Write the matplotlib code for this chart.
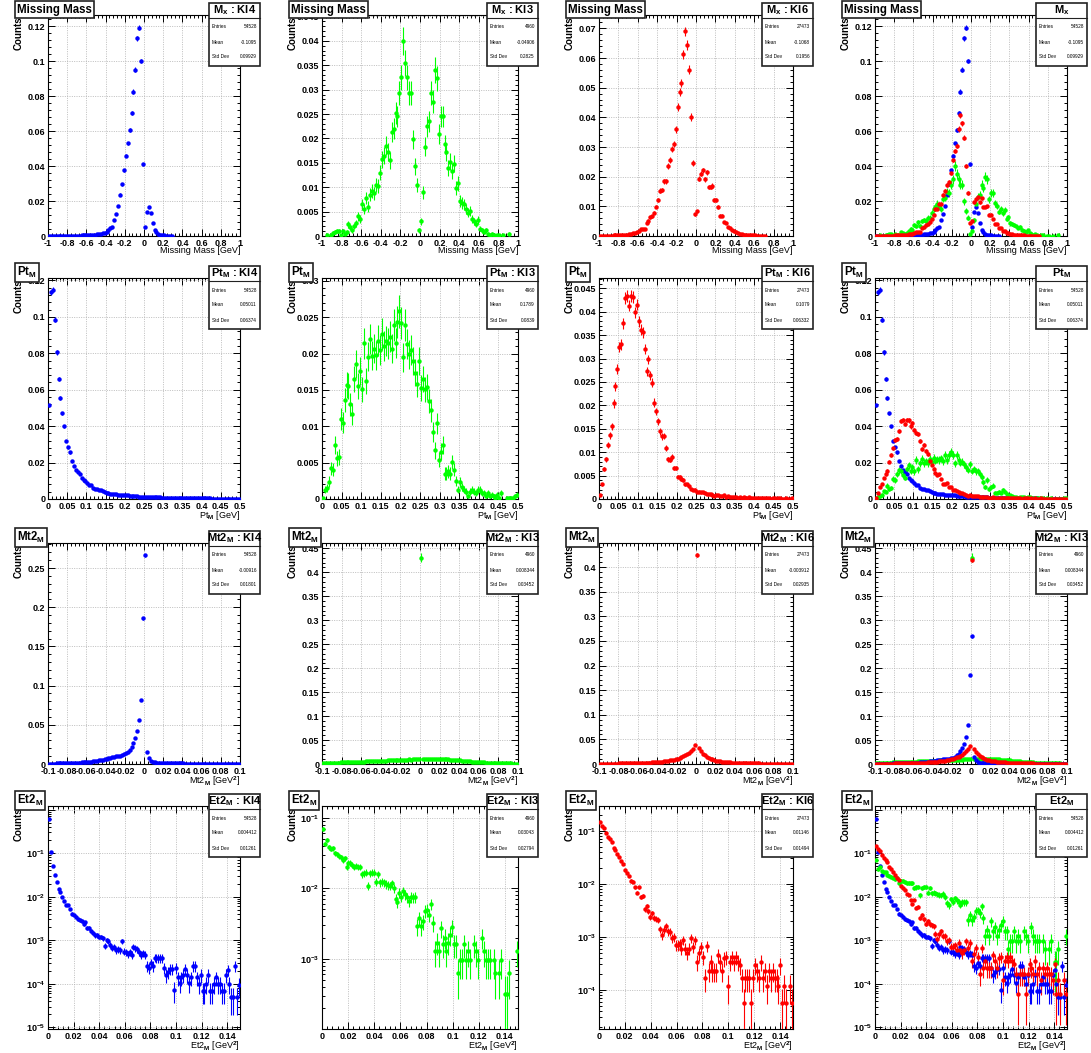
import numpy as np
import matplotlib
matplotlib.use("Agg")
import matplotlib.pyplot as plt
from matplotlib.patches import Rectangle
from matplotlib.ticker import (MultipleLocator, AutoMinorLocator, FuncFormatter,
                               LogLocator, NullFormatter)

plt.rcParams["font.family"] = ["Liberation Sans", "DejaVu Sans"]
plt.rcParams["font.weight"] = "bold"
plt.rcParams["mathtext.fontset"] = "custom"
plt.rcParams["mathtext.rm"] = "Liberation Sans:bold"
plt.rcParams["mathtext.bf"] = "Liberation Sans:bold"
plt.rcParams["mathtext.it"] = "Liberation Sans:bold"
plt.rcParams["mathtext.default"] = "bf"

W, H, DPI = 1091, 1053, 100

samples = ["Kl4", "Kl3", "Kl6"]
colors = {"Kl4": "#0000ff", "Kl3": "#00ff00", "Kl6": "#ff0000"}

# ---- Missing mass, 100 bins on [-1, 1] ----
mx_kl4 = [0.0001] * 12 + [0.0002] * 3 + [
    0.0002, 0.0002, 0.0003, 0.0003, 0.0004, 0.0004, 0.0005, 0.0006, 0.0007, 0.0008,
    0.0009, 0.0011, 0.0012, 0.0015, 0.0018,
    0.0024, 0.0032, 0.0045, 0.0052, 0.009, 0.0125, 0.017, 0.0237, 0.0295, 0.0375,
    0.046, 0.053, 0.0605, 0.0705, 0.0825, 0.095, 0.113, 0.119, 0.100, 0.041,
    0.0053, 0.0137, 0.0163, 0.0133, 0.0075, 0.0035, 0.0022, 0.0012, 0.0008, 0.0005,
    0.0003, 0.0002, 0.0002, 0.0001, 0.0001] + [0] * 35
mx_kl3 = [
    0, 0, 0.0003, 0, 0.0002, 0.0006, 0.0008, 0.001, 0.001, 0.0002,
    0.001, 0.0004, 0.0008, 0.0024, 0.0018, 0.0012, 0.002, 0.0026, 0.004, 0.0035,
    0.0065, 0.0055, 0.0078, 0.006, 0.0085, 0.0092, 0.0088, 0.0105, 0.0103, 0.013,
    0.0157, 0.0165, 0.0185, 0.0172, 0.0155, 0.0213, 0.022, 0.0253, 0.0245, 0.0293,
    0.0325, 0.0400, 0.0355, 0.0325, 0.0293, 0.0293, 0.0198, 0.0143, 0.0105, 0.0012,
    0.003, 0.009, 0.0183, 0.0225, 0.0235, 0.0293, 0.0275, 0.034, 0.0323, 0.021,
    0.0245, 0.0245, 0.0188, 0.0172, 0.014, 0.0152, 0.0133, 0.0148, 0.0098, 0.0108,
    0.0072, 0.0068, 0.0065, 0.0055, 0.0048, 0.0052, 0.0035, 0.003, 0.0025, 0.0032,
    0.0015, 0.0012, 0.0008, 0.0012, 0.0005, 0.0002, 0.0005, 0.0003, 0, 0.0002,
    0.0002, 0, 0.0002, 0, 0, 0.0005, 0, 0, 0, 0]
mx_kl6 = [
    0.0001, 0.0001, 0.0001, 0.0001, 0.0001, 0.0001, 0.0001, 0.0002, 0.0002, 0.0002,
    0.0003, 0.0003, 0.0004, 0.0004, 0.0005, 0.0006, 0.0007, 0.0009, 0.0011, 0.0014,
    0.0018, 0.0022, 0.0022, 0.0022, 0.0043, 0.0052, 0.0063, 0.0066, 0.0078, 0.0099,
    0.0122, 0.0153, 0.0155, 0.0184, 0.0184, 0.0236, 0.0257, 0.0292, 0.031, 0.036,
    0.0435, 0.0486, 0.0516, 0.0612, 0.069, 0.0644, 0.0561, 0.0401, 0.0246, 0.0074,
    0.0083, 0.0193, 0.021, 0.0221, 0.0192, 0.0215, 0.0165, 0.0165, 0.017, 0.0122,
    0.0122, 0.0097, 0.0069, 0.0069, 0.0048, 0.0043, 0.0029, 0.0026, 0.002, 0.0016,
    0.0013, 0.001, 0.0007, 0.0007, 0.0005, 0.0004, 0.0003, 0.0003, 0.0002, 0.0002,
    0.0002, 0.0001, 0.0001, 0.0001, 0.0001, 0.0001, 0, 0, 0, 0] + [0] * 10

# ---- Pt_M, 100 bins on [0, 0.5] ----
pt_kl4 = [
    0.0514, 0.1135, 0.1148, 0.0984, 0.0805, 0.066, 0.0554, 0.047, 0.040, 0.0318,
    0.0284, 0.0256, 0.0209, 0.0181, 0.0161, 0.0146, 0.0137, 0.0115, 0.0102, 0.0097,
    0.0088, 0.0079, 0.0077, 0.0059, 0.0057, 0.0055, 0.0051, 0.0051, 0.0044, 0.0037,
    0.0033, 0.0031, 0.0029, 0.0027, 0.0027, 0.0026, 0.0024, 0.0024, 0.0022, 0.0022,
    0.002, 0.002, 0.0018, 0.0016, 0.0016, 0.0015, 0.0015, 0.0013, 0.0013, 0.0013,
    0.0013, 0.0012, 0.0011, 0.0011, 0.001, 0.001, 0.0009, 0.0009, 0.0009, 0.0008,
    0.0008, 0.0008, 0.0007, 0.0007, 0.0007, 0.0006, 0.0006, 0.0006, 0.0006, 0.0005,
    0.0005, 0.0005, 0.0005, 0.0004, 0.0004, 0.0004, 0.0004, 0.0004, 0.0003, 0.0003,
    0.0003, 0.0003, 0.0003, 0.0003, 0.0003, 0.0002, 0.0002, 0.0002, 0.0002, 0.0002,
    0.0002, 0.0002, 0.0002, 0.0002, 0.0002, 0.0001, 0.0002, 0.0001, 0.0001, 0.0001]
pt_kl3 = [
    0.00014, 0.0013, 0.0015, 0.0024, 0.0042, 0.004, 0.0074, 0.0056, 0.0058, 0.011,
    0.0105, 0.0136, 0.0157, 0.0155, 0.013, 0.0117, 0.0165, 0.0186, 0.0155, 0.0176,
    0.0151, 0.0214, 0.0162, 0.0196, 0.022, 0.0197, 0.0207, 0.0198, 0.0218, 0.0205,
    0.0227, 0.021, 0.0217, 0.0214, 0.0223, 0.0207, 0.024, 0.0215, 0.0243, 0.0258,
    0.0242, 0.0195, 0.024, 0.0213, 0.0199, 0.0205, 0.019, 0.0174, 0.0158, 0.019,
    0.0153, 0.0165, 0.0151, 0.0154, 0.0135, 0.0122, 0.0092, 0.0067, 0.0104, 0.0054,
    0.0065, 0.0074, 0.0035, 0.0035, 0.0038, 0.0035, 0.0051, 0.004, 0.0025, 0.0013,
    0.0023, 0.0016, 0.0013, 0.001, 0.0004, 0.001, 0.0013, 0.001, 0.0008, 0.0013,
    0.0013, 0.0008, 0.0008, 0.0004, 0.0008, 0.0004, 0.0006, 0.0004, 0.0002, 0.0006,
    0.0002, 0.0008, 0, 0, 0.0002, 0.0002, 0.0002, 0.0002, 0.0004, 0.0006]
pt_kl6 = [
    0.0008, 0.0031, 0.0064, 0.0085, 0.0116, 0.0136, 0.0155, 0.0204, 0.0241, 0.0278,
    0.0325, 0.033, 0.0375, 0.0429, 0.0434, 0.0413, 0.0433, 0.0431, 0.0399, 0.0415,
    0.038, 0.0362, 0.0356, 0.032, 0.0273, 0.0298, 0.0264, 0.0248, 0.0206, 0.0187,
    0.0166, 0.0145, 0.0134, 0.0135, 0.0109, 0.0085, 0.0084, 0.009, 0.0066, 0.0066,
    0.0048, 0.0047, 0.0043, 0.0041, 0.0031, 0.0031, 0.0027, 0.0021, 0.0019, 0.002,
    0.0016, 0.0016, 0.0014, 0.0014, 0.0013, 0.0011, 0.001, 0.001, 0.0009, 0.0006,
    0.0008, 0.0009, 0.0007, 0.0006, 0.0008, 0.0005, 0.0006, 0.0005, 0.0004, 0.0005,
    0.0004, 0.0003, 0.0005, 0.0003, 0.0004, 0.0003, 0.0002, 0.0004, 0.0003, 0.0003,
    0.0002, 0.0003, 0.0002, 0.0003, 0.0002, 0.0002, 0.0003, 0.0002, 0.0001, 0.0002,
    0.0002, 0.0001, 0.0002, 0.0002, 0.0001, 0.0001, 0.0002, 0.0001, 0.0001, 0.0002]

# ---- Mt2_M, 100 bins on [-0.1, 0.1] ----
mt2_kl4 = [
    0.0004, 0.0005, 0.0005, 0.0006, 0.0007, 0.0007, 0.0008, 0.0009, 0.001, 0.0011,
    0.0012, 0.0013, 0.0014, 0.0015, 0.0016, 0.0017, 0.0018, 0.002, 0.0022, 0.0024,
    0.0026, 0.0028, 0.003, 0.0033, 0.0037, 0.0041, 0.0046, 0.005, 0.0055, 0.006,
    0.0066, 0.0072, 0.0078, 0.0085, 0.009, 0.0096, 0.0101, 0.0108, 0.0114, 0.0125,
    0.0135, 0.0152, 0.0178, 0.0214, 0.0268, 0.0332, 0.0418, 0.0558, 0.082, 0.186,
    0.266, 0.0148, 0.0077, 0.0042, 0.0028, 0.0021, 0.0017, 0.0015, 0.0013, 0.0012,
    0.0011, 0.001, 0.001, 0.0009, 0.0009, 0.0008, 0.0008, 0.0008, 0.0007, 0.0007,
    0.0007, 0.0006, 0.0006, 0.0006, 0.0006, 0.0005, 0.0005, 0.0005, 0.0005, 0.0005,
    0.0004, 0.0004, 0.0004, 0.0004, 0.0004, 0.0004, 0.0003, 0.0003, 0.0003, 0.0003,
    0.0003, 0.0003, 0.0003, 0.0003, 0.0003, 0.0003, 0.0003, 0.0002, 0.0002, 0.0002]
mt2_kl3 = [
    0.0015, 0.002, 0.0018, 0.0022, 0.0025, 0.0022, 0.0028, 0.003, 0.0026, 0.0032,
    0.0035, 0.0033, 0.0038, 0.004, 0.0036, 0.0042, 0.0045, 0.0043, 0.0048, 0.005,
    0.0052, 0.0049, 0.0055, 0.0058, 0.0056, 0.006, 0.0062, 0.0065, 0.0063, 0.0068,
    0.007, 0.0072, 0.0069, 0.0075, 0.0078, 0.0076, 0.008, 0.0083, 0.0081, 0.0085,
    0.0088, 0.009, 0.0087, 0.0092, 0.0095, 0.0093, 0.0098, 0.01, 0.0097, 0.0102,
    0.43, 0.0105, 0.0108, 0.011, 0.0106, 0.0112, 0.0109, 0.0113, 0.011, 0.0108,
    0.0106, 0.0104, 0.0101, 0.0098, 0.0095, 0.0092, 0.0088, 0.0085, 0.0081, 0.0078,
    0.0074, 0.007, 0.0066, 0.0063, 0.0059, 0.0055, 0.0052, 0.0049, 0.0045, 0.0042,
    0.0039, 0.0036, 0.0034, 0.0031, 0.0029, 0.0027, 0.0025, 0.0023, 0.0021, 0.002,
    0.0018, 0.0017, 0.0016, 0.0014, 0.0013, 0.0012, 0.0011, 0.001, 0.0009, 0.0008]
mt2_kl6 = [
    0.0006, 0.0006, 0.0007, 0.0007, 0.0008, 0.0008, 0.0009, 0.0009, 0.001, 0.001,
    0.0011, 0.0011, 0.0012, 0.0013, 0.0013, 0.0014, 0.0015, 0.0016, 0.0017, 0.0018,
    0.002, 0.0021, 0.0022, 0.0024, 0.0026, 0.0028, 0.003, 0.0032, 0.0035, 0.0038,
    0.0041, 0.0045, 0.0049, 0.0054, 0.0059, 0.0065, 0.0072, 0.008, 0.0089, 0.0099,
    0.011, 0.0123, 0.0138, 0.0155, 0.0175, 0.0198, 0.0225, 0.0262, 0.0305, 0.038,
    0.425, 0.032, 0.026, 0.021, 0.0175, 0.0148, 0.0125, 0.0107, 0.0092, 0.008,
    0.007, 0.0062, 0.0055, 0.0049, 0.0044, 0.004, 0.0036, 0.0033, 0.003, 0.0027,
    0.0025, 0.0023, 0.0021, 0.0019, 0.0018, 0.0017, 0.0016, 0.0015, 0.0014, 0.0013,
    0.0012, 0.0012, 0.0011, 0.001, 0.001, 0.0009, 0.0009, 0.0008, 0.0008, 0.0008,
    0.0007, 0.0007, 0.0007, 0.0006, 0.0006, 0.0006, 0.0005, 0.0005, 0.0005, 0.0005]

# ---- Et2_M, 100 bins on [0, 0.15] ----
et2_kl4 = [
    0.6, 0.104, 0.0505, 0.031, 0.0217, 0.0154, 0.0126, 0.01, 0.0078, 0.0065,
    0.0063, 0.0052, 0.0041, 0.0038, 0.0035, 0.003, 0.0029, 0.0027, 0.0023, 0.0026,
    0.0019, 0.0019, 0.0016, 0.0015, 0.0013, 0.0013, 0.0012, 0.0012, 0.0011, 0.00073,
    0.001, 0.00094, 0.00077, 0.00067, 0.0007, 0.00059, 0.00063, 0.0006, 0.00095, 0.00055,
    0.00054, 0.00048, 0.00053, 0.00046, 0.0007, 0.00066, 0.00063, 0.00053, 0.00046, 0.0005,
    0.00046, 0.00026, 0.00023, 0.0003, 0.00026, 0.0004, 0.00039, 0.00039, 0.00039, 0.00039,
    0.00023, 0.00016, 0.00019, 0.00022, 0.00022, 0.000072, 0.00023, 0.00014, 0.000105, 0.00014,
    0.00016, 0.00022, 0.00016, 0.000105, 0.00014, 0.00026, 0.00026, 0.00014, 0.0001, 0.00016,
    0.00007, 0.00007, 0.0001, 0.00016, 0.00007, 0.00007, 0.0001, 0.00014, 0.0001, 0.0001,
    0.00007, 0.00007, 0.00016, 0.00021, 0.0001, 0.00005, 0.00005, 0.00026, 0.00005, 0.000095]
et2_kl3 = [
    0.0697, 0.0425, 0.0485, 0.038, 0.036, 0.037, 0.0313, 0.0306, 0.0287, 0.0274,
    0.0251, 0.0268, 0.0202, 0.023, 0.0227, 0.0213, 0.0202, 0.0208, 0.0202, 0.0202,
    0.0159, 0.0164, 0.0167, 0.0108, 0.0162, 0.0167, 0.0167, 0.0123, 0.0159, 0.0121,
    0.0124, 0.0121, 0.0114, 0.011, 0.0108, 0.0117, 0.01, 0.0071, 0.0064, 0.0087,
    0.0076, 0.0092, 0.0082, 0.0074, 0.0066, 0.0075, 0.0074, 0.0075, 0.0029, 0.0038,
    0.0029, 0.0034, 0.0048, 0.0049, 0.0042, 0.006, 0.0032, 0.00127, 0.0017, 0.00127,
    0.0027, 0.0016, 0.002, 0.00127, 0.0017, 0.0022, 0.0028, 0.0016, 0.0016, 0.00062,
    0.00095, 0.00095, 0.0016, 0.00095, 0.00127, 0.00095, 0, 0.0016, 0.00127, 0.00095,
    0, 0.002, 0.00127, 0.00095, 0.00095, 0.00095, 0, 0.00095, 0.00062, 0,
    0.00062, 0.00095, 0, 0.00032, 0.00032, 0.00062, 0, 0, 0, 0.00127]
et2_kl6 = [
    0.144, 0.125, 0.111, 0.0916, 0.0768, 0.0683, 0.0616, 0.048, 0.044, 0.037,
    0.0319, 0.0267, 0.0238, 0.0178, 0.0158, 0.0142, 0.0114, 0.011, 0.0085, 0.0068,
    0.0085, 0.0056, 0.0059, 0.0033, 0.0038, 0.003, 0.0024, 0.0028, 0.0023, 0.0022,
    0.0021, 0.0014, 0.00106, 0.00136, 0.0016, 0.00127, 0.00123, 0.00095, 0.001, 0.0007,
    0.0007, 0.00076, 0.0006, 0.00087, 0.0006, 0.0005, 0.0006, 0.00095, 0.00065, 0.00087,
    0.00034, 0.00049, 0.00065, 0.00042, 0.00017, 0.00068, 0.00023, 0.00034, 0.00023, 0.00023,
    0.00023, 0.00045, 0.00034, 0.00023, 0.00039, 0.00042, 0.00012, 0.00034, 0.00042, 0.00034,
    0.00042, 0.00034, 0.00029, 0.00017, 0.000057, 0.00017, 0.00017, 0.00017, 0.000057, 0.00017,
    0.00029, 0.00023, 0.00017, 0.00034, 0.00017, 0.00023, 0.00012, 0.00023, 0.00017, 0.00023,
    0.00017, 0.00017, 0.00012, 0.00029, 0.000057, 0.00012, 0.000057, 0, 0.00012, 0.000057]

# stats box contents: entries, mean, std dev
mx_stats = {"Kl4": ("54528", "-0.1095", "0.09929"),
            "Kl3": ("4960", "-0.04906", "0.2825"),
            "Kl6": ("27473", "-0.1068", "0.1956")}
pt_stats = {"Kl4": ("54528", "0.05011", "0.06374"),
            "Kl3": ("4960", "0.1789", "0.0839"),
            "Kl6": ("27473", "0.1079", "0.06332")}
mt2_stats = {"Kl4": ("54528", "-0.00916", "0.01801"),
             "Kl3": ("4960", "0.008344", "0.03452"),
             "Kl6": ("27473", "-0.003912", "0.02935")}
et2_stats = {"Kl4": ("54528", "0.004412", "0.01261"),
             "Kl3": ("4960", "0.03043", "0.02794"),
             "Kl6": ("27473", "0.01146", "0.01494")}

rows = [
    dict(title="Missing Mass", name="$M_{x}$", xlabel="Missing Mass [GeV]",
         xrange=(-1, 1), xstep=0.2, ysteps=[0.02, 0.005, 0.01, 0.02], log=False,
         ytops=[0.1263, 0.0453, 0.0745, 0.1263],
         hists={"Kl4": mx_kl4, "Kl3": mx_kl3, "Kl6": mx_kl6}, stats=mx_stats,
         order=["Kl4", "Kl3", "Kl6"], tag_all=False),
    dict(title="Pt$_{M}$", name="Pt$_{M}$", xlabel="Pt$_{M}$ [GeV]",
         xrange=(0, 0.5), xstep=0.05, ysteps=[0.02, 0.005, 0.005, 0.02], log=False,
         ytops=[0.1213, 0.0304, 0.0472, 0.1213],
         hists={"Kl4": pt_kl4, "Kl3": pt_kl3, "Kl6": pt_kl6}, stats=pt_stats,
         order=["Kl4", "Kl3", "Kl6"], tag_all=False),
    dict(title="Mt2$_{M}$", name="Mt2$_{M}$", xlabel="Mt2$_{M}$ [GeV$^{2}$]",
         xrange=(-0.1, 0.1), xstep=0.02, ysteps=[0.05, 0.05, 0.05, 0.05], log=False,
         ytops=[0.2819, 0.461, 0.449, 0.461],
         hists={"Kl4": mt2_kl4, "Kl3": mt2_kl3, "Kl6": mt2_kl6}, stats=mt2_stats,
         order=["Kl3", "Kl4", "Kl6"], tag_all=True),
    dict(title="Et2$_{M}$", name="Et2$_{M}$", xlabel="Et2$_{M}$ [GeV$^{2}$]",
         xrange=(0, 0.15), xstep=0.02, ysteps=None, log=True, ytops=None,
         hists={"Kl4": et2_kl4, "Kl3": et2_kl3, "Kl6": et2_kl6}, stats=et2_stats,
         order=["Kl4", "Kl3", "Kl6"], tag_all=False),
]

# frame positions in pixels
COL_LEFT = [48, 322, 599, 875]
COL_RIGHT = [240, 518, 793, 1067]
ROW_TOP = [15, 278, 543, 806]
ROW_BOTTOM = [236, 499, 764, 1029]


def fmt_linear(v, _pos):
    if abs(v) < 1e-12:
        return "0"
    return "%g" % round(v, 6)


def fmt_log(v, _pos):
    e = int(round(np.log10(v)))
    if e >= 0:
        return ""
    return "$10^{%d}$" % e


def draw_hist(ax, lo, hi, values, n_entries, color, log):
    v = np.asarray(values, dtype=float)
    edges = np.linspace(lo, hi, len(v) + 1)
    x = 0.5 * (edges[:-1] + edges[1:])
    half = 0.5 * (edges[1] - edges[0])
    err = np.sqrt(v / n_entries)
    lower = np.minimum(err, v * 0.9999) if log else err
    keep = v > 0
    ax.errorbar(x[keep], v[keep], yerr=[lower[keep], err[keep]], xerr=half,
                fmt="o", ms=3.2, mfc=color, mec=color, mew=0, ecolor=color,
                elinewidth=0.8, capsize=0, zorder=3)
    return (v + err).max()


def style_axes(ax, row, ystep):
    ax.set_xlim(*row["xrange"])
    ax.xaxis.set_major_locator(MultipleLocator(row["xstep"]))
    ax.xaxis.set_minor_locator(AutoMinorLocator(5))
    ax.xaxis.set_major_formatter(FuncFormatter(fmt_linear))
    if row["log"]:
        ax.set_yscale("log")
        ax.yaxis.set_major_locator(LogLocator(base=10, numticks=20))
        ax.yaxis.set_minor_locator(LogLocator(base=10, subs=np.arange(2, 10), numticks=20))
        ax.yaxis.set_major_formatter(FuncFormatter(fmt_log))
        ax.yaxis.set_minor_formatter(NullFormatter())
    else:
        ax.yaxis.set_major_locator(MultipleLocator(ystep))
        ax.yaxis.set_minor_locator(AutoMinorLocator(5))
        ax.yaxis.set_major_formatter(FuncFormatter(fmt_linear))
    ax.tick_params(which="both", direction="in", top=True, right=True,
                   labelsize=6.5, pad=2, width=0.7)
    ax.tick_params(which="major", length=5)
    ax.tick_params(which="minor", length=2.5)
    for s in ax.spines.values():
        s.set_linewidth(0.8)
    ax.set_axisbelow(True)
    ax.grid(True, which="major", color="#b4b4b4", linestyle=(0, (1.2, 1.6)),
            linewidth=0.6)
    ax.set_xlabel(row["xlabel"], loc="right", fontsize=6.5, labelpad=-1)


fig = plt.figure(figsize=(W / DPI, H / DPI), dpi=DPI)
fig.patch.set_facecolor("white")

overlay = fig.add_axes([0, 0, 1, 1], zorder=10)
overlay.set_xlim(0, W)
overlay.set_ylim(H, 0)
overlay.axis("off")
overlay.patch.set_alpha(0)

for r, row in enumerate(rows):
    top, bottom = ROW_TOP[r], ROW_BOTTOM[r]
    lo, hi = row["xrange"]
    for c in range(4):
        left, right = COL_LEFT[c], COL_RIGHT[c]
        ax = fig.add_axes([left / W, 1 - bottom / H, (right - left) / W, (bottom - top) / H])
        drawn = [samples[c]] if c < 3 else row["order"]
        ymax = None
        for name in drawn:
            n_entries = int(row["stats"][name][0])
            peak = draw_hist(ax, lo, hi, row["hists"][name], n_entries, colors[name], row["log"])
            if ymax is None:
                ymax = peak
        first = drawn[0]
        n_first = int(row["stats"][first][0])
        if row["log"]:
            ax.set_ylim(0.5 / n_first, 2.0 * ymax)
        else:
            ax.set_ylim(0, row["ytops"][c])
        style_axes(ax, row, row["ysteps"][c] if row["ysteps"] else None)

        # y-axis title, tucked under the histogram title box
        overlay.text(left - 24, top + 1, "Counts", rotation=90, rotation_mode="anchor",
                     ha="right", va="bottom", fontsize=7, zorder=1)

        # histogram title box
        overlay.text(left - 31, top - 5.5, row["title"], ha="left", va="center",
                     fontsize=8.3, zorder=3,
                     bbox=dict(boxstyle="square,pad=0.2", fc="white", ec="#222222", lw=1.2))

        # stats box
        if c < 3 or row["tag_all"]:
            stat_title = "%s : %s" % (row["name"], first)
        else:
            stat_title = row["name"]
        bx0, bx1 = right - 31, right + 20
        by0, by1 = top - 12, top + 51
        overlay.add_patch(Rectangle((bx0, by0), bx1 - bx0, by1 - by0, fc="white",
                                    ec="#222222", lw=1.2, zorder=4))
        overlay.plot([bx0, bx1], [top + 3, top + 3], color="#222222", lw=0.8, zorder=5)
        overlay.text((bx0 + bx1) / 2, top - 4.5, stat_title, ha="center", va="center",
                     fontsize=8, zorder=5)
        entries_s, mean_s, std_s = row["stats"][first]
        for k, (lab, val) in enumerate([("Entries", entries_s), ("Mean", mean_s),
                                        ("Std Dev", std_s)]):
            yy = top + 12 + 15 * k
            overlay.text(bx0 + 3, yy, lab, ha="left", va="center", fontsize=3.4,
                         fontweight="normal", zorder=5)
            overlay.text(bx1 - 3, yy, val, ha="right", va="center", fontsize=3.4,
                         fontweight="normal", zorder=5)

fig.savefig("out.png", dpi=DPI, facecolor="white")
